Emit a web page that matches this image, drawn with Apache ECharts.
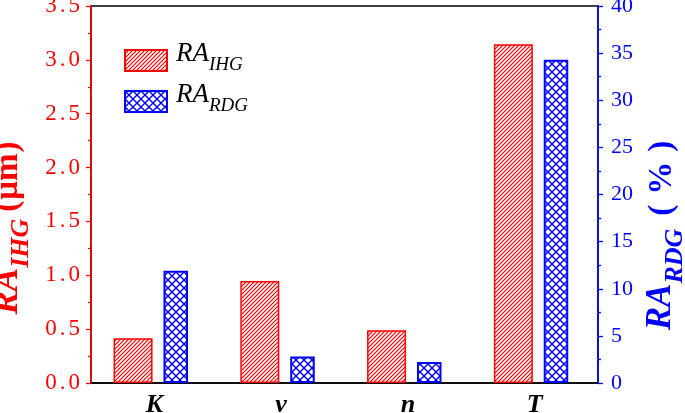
<!DOCTYPE html>
<html><head><meta charset="utf-8">
<script src="https://cdn.jsdelivr.net/npm/echarts@6/dist/echarts.min.js"></script>
<style>html,body{margin:0;padding:0;background:#fff}#c{width:685px;height:413px}</style>
</head><body><div id="c"></div>
<script>
// ---- data ----
const categories = ['K', 'v', 'n', 'T'];
const raIHG = [0.415, 0.947, 0.489, 3.144];   // µm (left axis)
const raRDG = [11.9, 2.8, 2.23, 34.3];        // % (right axis)
const leftAxisRange = [0, 3.5, 0.5];
const rightAxisRange = [0, 40, 5];

const RED = '#ff0000', BLUE = '#0000ff';
const SERIF = 'Liberation Serif, Times New Roman, serif';

function hatch(color) {
  const p = 4, c = document.createElement('canvas');
  c.width = p; c.height = p;
  const g = c.getContext('2d');
  g.fillStyle = '#fff'; g.fillRect(0, 0, p, p);
  g.strokeStyle = color; g.lineWidth = 1.2;
  for (let k = -1; k <= 1; k++) {
    g.beginPath(); g.moveTo(k * p - 1, p + 1); g.lineTo(k * p + p + 1, -1); g.stroke();
  }
  return c;
}
function cross(color) {
  const p = 8, c = document.createElement('canvas');
  c.width = p; c.height = p;
  const g = c.getContext('2d');
  g.fillStyle = '#fff'; g.fillRect(0, 0, p, p);
  g.strokeStyle = color; g.lineWidth = 1.4;
  for (let k = -1; k <= 1; k++) {
    g.beginPath(); g.moveTo(k * p - 1, p + 1); g.lineTo(k * p + p + 1, -1); g.stroke();
    g.beginPath(); g.moveTo(k * p - 1, -1); g.lineTo(k * p + p + 1, p + 1); g.stroke();
  }
  return c;
}

const nameRich = (color) => ({
  a: {fontFamily: SERIF, fontStyle: 'italic', fontWeight: 'bold', fontSize: 35, lineHeight: 35, color, padding: [0, 0, 9, 0], verticalAlign: 'bottom'},
  b: {fontFamily: SERIF, fontStyle: 'italic', fontWeight: 'bold', fontSize: 26, lineHeight: 26, color, verticalAlign: 'bottom'},
  o: {fontFamily: SERIF, fontWeight: 'bold', fontSize: 33, lineHeight: 33, color, padding: [0, 0, 9, 0], verticalAlign: 'bottom'},
  q: {fontFamily: SERIF, fontWeight: 'bold', fontSize: 33, lineHeight: 33, color, padding: [0, 0, 9, 0], verticalAlign: 'bottom'},
  c: {fontFamily: SERIF, fontWeight: 'bold', fontSize: 33, lineHeight: 33, color, padding: [0, 0, 9, 0], verticalAlign: 'bottom'}
});
const leftRich = nameRich(RED);
leftRich.o.padding = [0, 1, 9, 7];
leftRich.c.padding = [0, 0, 9, 1];
const rightRich = nameRich(BLUE);
rightRich.o.padding = [0, 10, 9, 13];
rightRich.c.padding = [0, 0, 9, 10];

const chart = echarts.init(document.getElementById('c'), null, {renderer: 'canvas'});
chart.setOption({
  animation: false,
  backgroundColor: '#fff',
  grid: [
    {left: 91, right: 87, top: 6, bottom: 30, containLabel: false, outerBoundsMode: 'none',
     show: true, borderColor: '#000', borderWidth: 1.5},
    {left: 87.4, right: 90.6, top: 6, bottom: 30, containLabel: false, outerBoundsMode: 'none'}
  ],
  legend: {
    left: 124, top: 40, orient: 'vertical', padding: 0, itemGap: 7,
    itemWidth: 42, itemHeight: 21, icon: 'rect',
    formatter: function (name) {
      return name === 'RA_IHG' ? '{m|RA}{s|IHG}' : '{m|RA}{s|RDG}';
    },
    textStyle: {
      rich: {
        m: {fontFamily: SERIF, fontStyle: 'italic', fontSize: 27, lineHeight: 27, color: '#000', padding: [0, 0, 7, 4], verticalAlign: 'bottom'},
        s: {fontFamily: SERIF, fontStyle: 'italic', fontSize: 19, lineHeight: 19, color: '#000', verticalAlign: 'bottom'}
      }
    }
  },
  xAxis: [{
    type: 'category', data: categories, gridIndex: 0,
    axisLine: {lineStyle: {color: '#000', width: 1.5}},
    axisTick: {show: false},
    axisLabel: {margin: 9, color: '#000', fontFamily: SERIF, fontStyle: 'italic', fontWeight: 'bold', fontSize: 26}
  }, {
    type: 'category', data: categories, gridIndex: 1, show: false
  }],
  yAxis: [{
    type: 'value', position: 'left', gridIndex: 0,
    min: leftAxisRange[0], max: leftAxisRange[1], interval: leftAxisRange[2],
    splitLine: {show: false},
    axisLine: {show: true, lineStyle: {color: RED, width: 1.5}},
    axisTick: {show: true, length: 5, lineStyle: {color: RED, width: 1.3}},
    minorTick: {show: true, splitNumber: 2, length: 3, lineStyle: {color: RED, width: 1.3}},
    axisLabel: {
      margin: 11, color: RED, fontFamily: SERIF, fontSize: 23,
      formatter: v => { const s = v.toFixed(1).split('.'); return '{d|' + s[0] + '}{p|.}{d|' + s[1] + '}'; },
      rich: {
        d: {fontFamily: SERIF, fontSize: 23, color: RED},
        p: {fontFamily: SERIF, fontSize: 23, color: RED, padding: [0, 3, 0, 3]}
      }
    },
    name: '{a|RA}{b|IHG}{o|(}{q|μm}{c|)}', nameLocation: 'middle', nameRotate: 90, nameGap: 46,
    nameTextStyle: {padding: [3, 67, 0, 0], rich: leftRich}
  }, {
    type: 'value', position: 'right', gridIndex: 0,
    min: rightAxisRange[0], max: rightAxisRange[1], interval: rightAxisRange[2],
    splitLine: {show: false},
    axisLine: {show: true, lineStyle: {color: BLUE, width: 1.5}},
    axisTick: {show: true, length: 5, lineStyle: {color: BLUE, width: 1.3}},
    minorTick: {show: true, splitNumber: 2, length: 3, lineStyle: {color: BLUE, width: 1.3}},
    axisLabel: {margin: 13, color: BLUE, fontFamily: SERIF, fontSize: 22},
    name: '{a|RA}{b|RDG}{o|(}{q|%}{c|)}', nameLocation: 'middle', nameRotate: 90, nameGap: 52,
    nameTextStyle: {padding: [0, 82, 0, 0], rich: rightRich}
  }, {
    type: 'value', gridIndex: 1, show: false,
    min: leftAxisRange[0], max: leftAxisRange[1], interval: leftAxisRange[2]
  }, {
    type: 'value', gridIndex: 1, show: false,
    min: rightAxisRange[0], max: rightAxisRange[1], interval: rightAxisRange[2]
  }],
  series: [{
    name: 'RA_IHG', type: 'bar', xAxisIndex: 1, yAxisIndex: 2, data: raIHG,
    barWidth: 39, barGap: '28%',
    itemStyle: {color: {image: hatch(RED), repeat: 'repeat'}, borderColor: RED, borderWidth: 1.5}
  }, {
    name: 'RA_RDG', type: 'bar', xAxisIndex: 1, yAxisIndex: 3, data: raRDG,
    barWidth: 24.5,
    itemStyle: {color: {image: cross(BLUE), repeat: 'repeat'}, borderColor: BLUE, borderWidth: 2}
  }]
});
</script>
</body></html>
